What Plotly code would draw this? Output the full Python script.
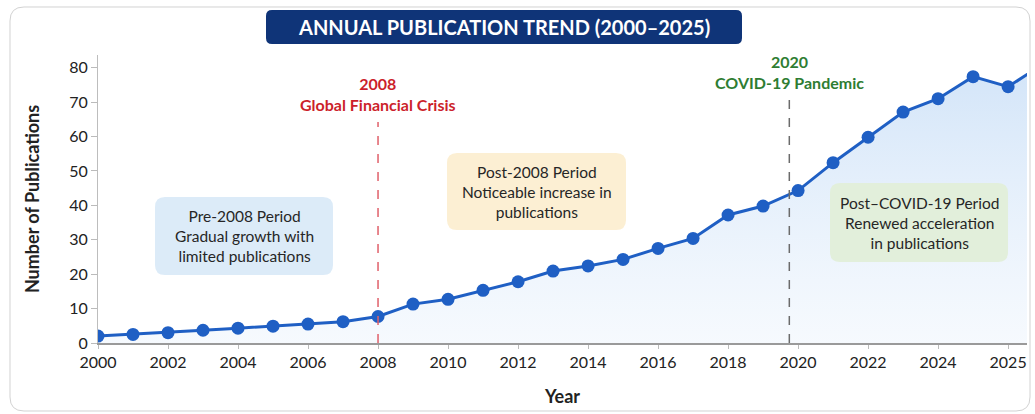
import plotly.graph_objects as go

# ---------------- data ----------------
years = list(range(2000, 2028))
publications = [2.0, 2.5, 3.0, 3.7, 4.3, 4.9, 5.5, 6.2, 7.7, 11.3, 12.7, 15.3, 17.8,
                20.9, 22.4, 24.3, 27.5, 30.4, 37.2, 39.8, 44.3, 52.4, 59.8, 67.1,
                71.0, 77.4, 74.5, 81.0]
tick_vals = [2000, 2002, 2004, 2006, 2008, 2010, 2012, 2014, 2016, 2018, 2020, 2022, 2024, 2026]
tick_text = ["2000", "2002", "2004", "2006", "2008", "2010", "2012", "2014", "2016",
             "2018", "2020", "2022", "2024", "2025"]
y_ticks = [0, 10, 20, 30, 40, 50, 60, 70, 80]
events = [
    {"x": 2008, "label": "2008<br>Global Financial Crisis", "color": "#cc1f2b", "line": "#e0606a"},
    {"x": 2019.75, "label": "2020<br>COVID-19 Pandemic", "color": "#2e7d32", "line": "#6b6b6b"},
]
period_texts = [
    "Pre-2008 Period<br>Gradual growth with<br>limited publications",
    "Post-2008 Period<br>Noticeable increase in<br>publications",
    "Post\u2013COVID-19 Period<br>Renewed acceleration<br>in publications",
]
title_text = "ANNUAL PUBLICATION TREND (2000\u20132025)"

# ---------------- layout helpers ----------------
W, H = 1035, 414
ML, MR, MT, MB = 98, 8, 55, 71
PW, PH = W - ML - MR, H - MT - MB
FONT = "Lato"


def px(x, y):
    return (x - ML) / PW, (H - MB - y) / PH


def rrect(x0, y0, x1, y1, r):
    def P(x, y):
        a, b = px(x, y)
        return f"{a:.5f},{b:.5f}"
    return (f"M {P(x0 + r, y0)} L {P(x1 - r, y0)} Q {P(x1, y0)} {P(x1, y0 + r)} "
            f"L {P(x1, y1 - r)} Q {P(x1, y1)} {P(x1 - r, y1)} "
            f"L {P(x0 + r, y1)} Q {P(x0, y1)} {P(x0, y1 - r)} "
            f"L {P(x0, y0 + r)} Q {P(x0, y0)} {P(x0 + r, y0)} Z")


fig = go.Figure()
fig.add_trace(go.Scatter(
    x=years, y=publications, mode="lines+markers",
    line=dict(color="#1f5fc4", width=3),
    marker=dict(color="#1f5fc4", size=13),
    fill="tozeroy",
    fillgradient=dict(type="vertical",
                      colorscale=[[0, "rgba(240,246,253,0.6)"], [1, "rgba(208,227,248,0.95)"]]),
    hoverinfo="x+y", showlegend=False,
))

shapes = []
# outer card
shapes.append(dict(type="path", xref="paper", yref="paper", path=rrect(10, 7, 1030, 411, 14),
                   line=dict(color="#d2d2d2", width=1), fillcolor="rgba(0,0,0,0)", layer="below"))
# title box
shapes.append(dict(type="path", xref="paper", yref="paper", path=rrect(266, 10, 742, 44, 6),
                   line=dict(width=0), fillcolor="#0f3478"))
# period boxes
boxes = [((155, 197, 333, 275), "#dcebf8"), ((447, 153, 626, 230), "#fcefd3"),
         ((830, 183, 1008, 262), "#e2efdb")]
for (x0, y0, x1, y1), c in boxes:
    shapes.append(dict(type="path", xref="paper", yref="paper", path=rrect(x0, y0, x1, y1, 10),
                       line=dict(width=0), fillcolor=c, layer="above"))
# event lines
shapes.append(dict(type="line", xref="x", yref="paper", x0=events[0]["x"], x1=events[0]["x"],
                   y0=0, y1=px(0, 122)[1], line=dict(color=events[0]["line"], width=1.5, dash="dash")))
shapes.append(dict(type="line", xref="x", yref="paper", x0=events[1]["x"], x1=events[1]["x"],
                   y0=0, y1=px(0, 97)[1], line=dict(color=events[1]["line"], width=1.5, dash="dash")))

annotations = []
tx, ty = px(504, 27)
annotations.append(dict(x=tx, y=ty, xref="paper", yref="paper", text=f"<b>{title_text}</b>",
                        showarrow=False, font=dict(family=FONT, size=20, color="white"),
                        xanchor="center", yanchor="middle"))
ey = [94, 72]
for ev, yy in zip(events, ey):
    annotations.append(dict(x=ev["x"], y=px(0, yy)[1], xref="x", yref="paper",
                            text=f"<b>{ev['label']}</b>", showarrow=False,
                            font=dict(family=FONT, size=16, color=ev["color"]),
                            xanchor="center", yanchor="middle"))
for ((x0, y0, x1, y1), _), t in zip(boxes, period_texts):
    cx, cy = px((x0 + x1) / 2, (y0 + y1) / 2)
    annotations.append(dict(x=cx, y=cy, xref="paper", yref="paper", text=t, showarrow=False,
                            font=dict(family=FONT, size=15.5, color="#262626"),
                            xanchor="center", yanchor="middle", align="center"))

fig.update_layout(
    width=W, height=H,
    margin=dict(l=ML, r=MR, t=MT, b=MB),
    paper_bgcolor="white", plot_bgcolor="rgba(0,0,0,0)",
    font=dict(family=FONT, size=15, color="#222"),
    shapes=shapes, annotations=annotations,
    xaxis=dict(range=[2000, 2026.54], tickvals=tick_vals, ticktext=tick_text,
               showgrid=False, zeroline=False, showline=True, linecolor="#9a9a9a", linewidth=1.5,
               ticks="outside", ticklen=4, tickcolor="#bbbbbb",
               tickfont=dict(family=FONT, size=16, color="#222"),
               title=dict(text="<b>Year</b>", font=dict(family=FONT, size=18, color="#222"), standoff=20)),
    yaxis=dict(range=[0, 83.7], tickvals=y_ticks, showgrid=False, zeroline=False,
               showline=True, linecolor="#bdbdbd", linewidth=1,
               ticks="outside", ticklen=6, tickcolor="#bbbbbb",
               tickfont=dict(family=FONT, size=16, color="#222"),
               title=dict(text="<b>Number of Publications</b>", font=dict(family=FONT, size=18, color="#222"),
                          standoff=24)),
)

fig.write_html("out.html", config={"displayModeBar": False},
               post_script="document.body.style.margin='0';")
